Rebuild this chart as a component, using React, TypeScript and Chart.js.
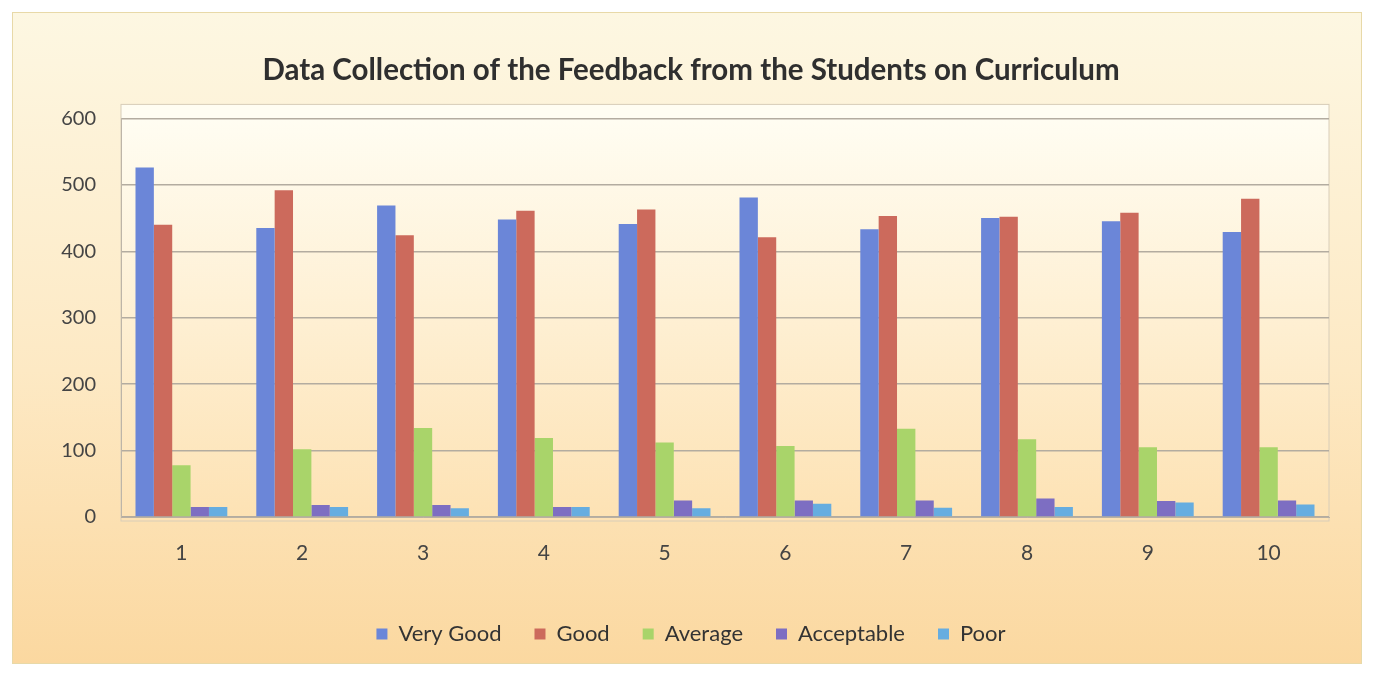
import React, { useEffect, useRef } from "react";
import { Chart, registerables } from "chart.js";

Chart.register(...registerables);

const categories = ["1", "2", "3", "4", "5", "6", "7", "8", "9", "10"];
const veryGood = [526, 435, 469, 448, 441, 481, 433, 450, 445, 429];
const good = [440, 492, 424, 461, 463, 421, 453, 452, 458, 479];
const average = [78, 102, 134, 119, 112, 107, 133, 117, 105, 105];
const acceptable = [15, 18, 18, 15, 25, 25, 25, 28, 24, 25];
const poor = [15, 15, 13, 15, 13, 20, 14, 15, 22, 19];
const seriesNames = ["Very Good", "Good", "Average", "Acceptable", "Poor"];
const titleText = "Data Collection of the Feedback from the Students on Curriculum";

const FONT = "Lato, 'Open Sans', sans-serif";

const plotBg = {
  id: "plotBg",
  beforeDraw(chart: any) {
    const { ctx, chartArea } = chart;
    if (!chartArea) return;
    const g = ctx.createLinearGradient(0, chartArea.top, 0, chartArea.bottom);
    g.addColorStop(0, "#fffdf2");
    g.addColorStop(1, "#fde2b4");
    ctx.save();
    ctx.fillStyle = g;
    ctx.fillRect(chartArea.left, chartArea.top - 14, chartArea.right - chartArea.left, chartArea.bottom - chartArea.top + 18);
    ctx.strokeStyle = "#d8cdb8";
    ctx.lineWidth = 1;
    ctx.strokeRect(chartArea.left, chartArea.top - 14, chartArea.right - chartArea.left, chartArea.bottom - chartArea.top + 18);
    ctx.restore();
  },
};

export default function App() {
  const ref = useRef<HTMLCanvasElement | null>(null);

  useEffect(() => {
    document.body.style.margin = "0";
    const values = [veryGood, good, average, acceptable, poor];
    const colors = ["#6b86d8", "#cc6a5c", "#a9d46a", "#7d6ec2", "#66ade0"];
    const chart = new Chart(ref.current as HTMLCanvasElement, {
      type: "bar",
      data: {
        labels: categories,
        datasets: seriesNames.map((n, i) => ({
          label: n,
          data: values[i],
          backgroundColor: colors[i],
          borderWidth: 0,
          barPercentage: 1,
          categoryPercentage: 0.76,
        })),
      },
      options: {
        animation: false,
        responsive: true,
        maintainAspectRatio: false,
        layout: { padding: { left: 40, right: 32, top: 0, bottom: 8 } },
        plugins: {
          title: {
            display: true,
            text: titleText,
            color: "#2f2f2f",
            font: { family: FONT, size: 29.5, weight: "bold" },
            padding: { top: 40, bottom: 30 },
          },
          legend: {
            position: "bottom",
            labels: {
              color: "#333",
              font: { family: FONT, size: 22 },
              boxWidth: 11,
              boxHeight: 11,
              padding: 33,
            },
          },
          tooltip: { enabled: false },
        },
        scales: {
          x: {
            grid: { display: false, drawTicks: false },
            border: { display: true, color: "#b9b0a2", width: 1 },
            ticks: { color: "#444", font: { family: FONT, size: 21 }, padding: 24 },
            afterFit: (s: any) => { s.height = 73; },
          },
          y: {
            min: 0,
            max: 600,
            ticks: { stepSize: 100, color: "#444", font: { family: FONT, size: 20 }, padding: 25 },
            grid: { color: "#b3aca0", lineWidth: 1.5, drawTicks: false },
            border: { display: true, color: "#bdb5a8", width: 1 },
            afterFit: (s: any) => { s.width = 68; },
          },
        },
      },
      plugins: [plotBg],
    });
    return () => chart.destroy();
  }, []);

  return (
    <div style={{ position: "relative", width: 1375, height: 679, background: "#ffffff", overflow: "hidden" }}>
      <div
        style={{
          position: "absolute",
          left: 12,
          top: 12,
          width: 1350,
          height: 652,
          border: "1px solid #e8d9a8",
          background: "linear-gradient(180deg, #fdf7e2 0%, #fde9c4 55%, #fbd8a0 100%)",
          boxSizing: "border-box",
        }}
      >
        <canvas ref={ref} />
      </div>
    </div>
  );
}
